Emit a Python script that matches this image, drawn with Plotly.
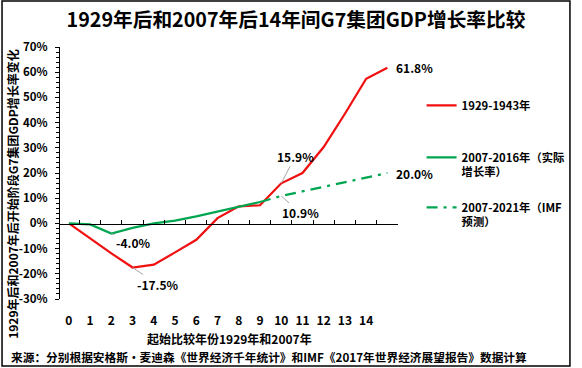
import plotly.graph_objects as go

# ---------------- data ----------------
x_index = list(range(16))
x_tick_vals = list(range(15))
x_tick_labels = ["0", "1", "2", "3", "4", "5", "6", "7", "8", "9", "10", "11", "12", "13", "14"]
x_minor_ticks = [0.5, 1.5, 2.5, 3.5, 4.5, 5.5, 6.5, 7.5, 8.5, 9.5, 10.5, 11.5, 12.5, 13.5, 14.5, 15.5]

red_1929 = [0, -6.0, -11.9, -17.5, -16.4, -11.5, -6.5, 2.1, 6.8, 7.2, 15.9, 20.0, 30.3, 43.5, 57.4, 61.8]
green_actual = [0, -0.4, -4.0, -1.8, 0.0, 1.1, 2.8, 4.8, 6.8, 8.5]
imf_forecast = [None, None, None, None, None, None, None, None, None, 8.5, 10.9, 12.7, 14.5, 16.4, 18.2, 20.0]

y_tick_vals = [-30, -20, -10, 0, 10, 20, 30, 40, 50, 60, 70]
y_tick_labels = ["-30%", "-20%", "-10%", "0%", "10%", "20%", "30%", "40%", "50%", "60%", "70%"]

name_red = "1929-1943年"
name_green = "2007-2016年（实际<br>增长率）"
name_imf = "2007-2021年（IMF<br>预测）"

title_text = "1929年后和2007年后14年间G7集团GDP增长率比较"
y_title = "1929年后和2007年后开始阶段G7集团GDP增长率变化"
x_title = "起始比较年份1929年和2007年"
source_text = "来源：分别根据安格斯·麦迪森《世界经济千年统计》和IMF《2017年世界经济展望报告》数据计算"

# ---------------- layout geometry ----------------
W, H = 582, 368
ML, MR, MT, MB = 60, 178, 47, 69
PW, PH = W - ML - MR, H - MT - MB


def px2x(px):
    return (px - ML) / PW


def px2y(py):
    return (H - MB - py) / PH


FONT = "Noto Sans CJK SC"
RED = "#F01010"
GREEN = "#00A550"
GREY = "#A6A6A6"

fig = go.Figure()
fig.add_trace(go.Scatter(x=x_index, y=red_1929, mode="lines", name=name_red,
                         line=dict(color=RED, width=2.25), legend="legend"))
fig.add_trace(go.Scatter(x=x_index[:len(green_actual)], y=green_actual, mode="lines", name=name_green,
                         line=dict(color=GREEN, width=2.25), legend="legend2"))
fig.add_trace(go.Scatter(x=x_index, y=imf_forecast, mode="lines", name=name_imf,
                         line=dict(color=GREEN, width=2.25, dash="11px,6px,3px,6px"), legend="legend3"))
# carrier for the axis drawn at y = 0
fig.add_trace(go.Scatter(x=[None], y=[None], xaxis="x2", showlegend=False, hoverinfo="skip"))

annotations = [
    dict(x=15, y=red_1929[15], text="61.8%", showarrow=False, xanchor="left", xshift=7),
    dict(x=15, y=imf_forecast[15], text="20.0%", showarrow=False, xanchor="left", xshift=7),
    dict(x=10, y=red_1929[10], text="15.9%", showarrow=True, arrowhead=0, arrowwidth=1,
         arrowcolor=GREY, ax=14, ay=-27),
    dict(x=10, y=imf_forecast[10], text="10.9%", showarrow=True, arrowhead=0, arrowwidth=1,
         arrowcolor=GREY, ax=19, ay=17),
    dict(x=2, y=green_actual[2], text="-4.0%", showarrow=True, arrowhead=0, arrowwidth=1,
         arrowcolor=GREY, ax=22, ay=9),
    dict(x=3, y=red_1929[3], text="-17.5%", showarrow=True, arrowhead=0, arrowwidth=1,
         arrowcolor=GREY, ax=25, ay=17),
    dict(xref="paper", yref="paper", x=px2x(12), y=px2y(194), text=y_title, textangle=-90,
         xanchor="center", yanchor="middle", showarrow=False, font=dict(size=12)),
    dict(xref="paper", yref="paper", x=px2x(232), y=px2y(338), text=x_title,
         xanchor="center", yanchor="middle", showarrow=False, font=dict(size=12)),
    dict(xref="paper", yref="paper", x=px2x(8), y=px2y(356), text=source_text, xanchor="left",
         yanchor="middle", showarrow=False, font=dict(size=11.7)),
]

legend_common = dict(font=dict(size=11.3, color="black"), bgcolor="rgba(0,0,0,0)",
                     xanchor="left", yanchor="middle", itemwidth=30, valign="top",
                     borderwidth=0)

fig.update_layout(
    template="none",
    width=W, height=H, autosize=False,
    margin=dict(l=ML, r=MR, t=MT, b=MB),
    paper_bgcolor="white", plot_bgcolor="white",
    font=dict(family=FONT, size=12, color="black", weight="bold"),
    title=dict(text=title_text, x=296 / W, xanchor="center", y=1 - 20 / H, yanchor="middle",
               font=dict(size=19.7, color="black")),
    xaxis=dict(range=[-0.42, 15.5], tickvals=x_tick_vals, ticktext=x_tick_labels,
               showline=False, showgrid=False, zeroline=False, ticks="",
               ticklabelstandoff=13, tickfont=dict(size=12), automargin=False),
    xaxis2=dict(matches="x", overlaying="x", anchor="free", position=px2y(223.7),
                tickvals=x_minor_ticks, ticks="inside", ticklen=4, tickcolor="black",
                showticklabels=False, showline=True, linecolor="black", linewidth=1,
                showgrid=False, zeroline=False, automargin=False),
    yaxis=dict(range=[-30, 70], tickvals=y_tick_vals, ticktext=y_tick_labels,
               showline=True, linecolor="black", linewidth=1, ticks="outside", ticklen=4,
               tickcolor="black", showgrid=False, zeroline=False, ticklabelstandoff=5,
               tickfont=dict(size=11.5), automargin=False,
               minor=dict(dtick=2, ticks="outside", ticklen=3, tickcolor="black")),
    legend=dict(x=px2x(428), y=px2y(106), **legend_common),
    legend2=dict(x=px2x(428), y=px2y(165), **legend_common),
    legend3=dict(x=px2x(428), y=px2y(215), **legend_common),
    annotations=annotations,
    shapes=[dict(type="rect", xref="paper", yref="paper", x0=px2x(1), x1=px2x(579),
                 y0=px2y(366), y1=px2y(1), line=dict(color="black", width=1.5))],
    showlegend=True,
)

fig.write_html("out.html", config={"displayModeBar": False},
               post_script="document.body.style.margin='0px';document.body.style.overflow='hidden';")
